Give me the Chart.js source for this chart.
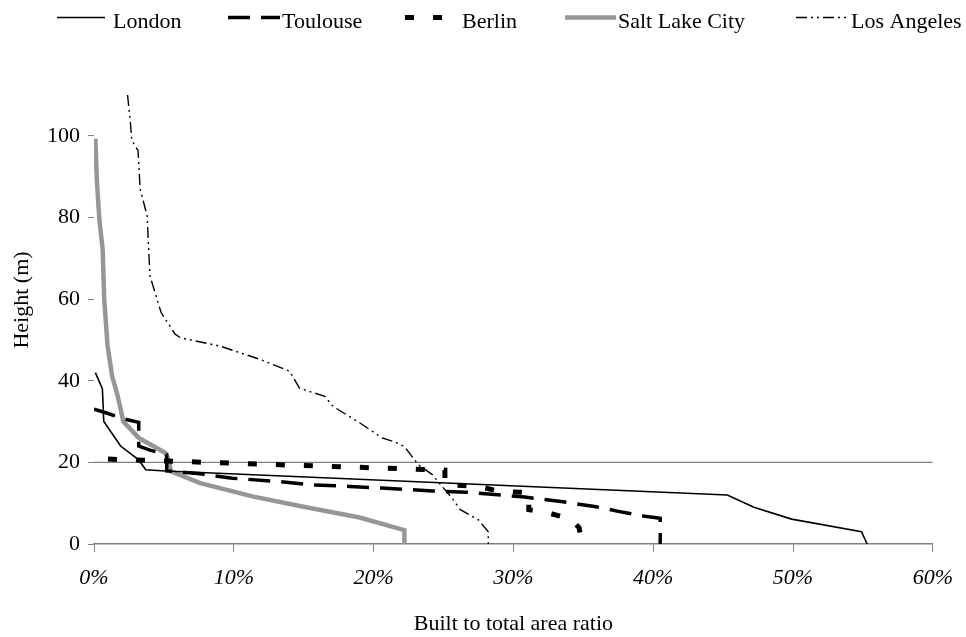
<!DOCTYPE html>
<html>
<head>
<meta charset="utf-8">
<script src="https://cdn.jsdelivr.net/npm/chart.js@4.4.1/dist/chart.umd.min.js"></script>
<style>
  html, body { margin: 0; padding: 0; background: #fff; }
</style>
</head>
<body>
<canvas id="myChart" width="966" height="637"></canvas>
<script>
// built-to-total area ratio (%) against height (m)
const londonRatio  = [0.1, 0.6, 0.7, 1.9, 3.2, 3.7, 5.1, 45.3, 47.2, 49.9, 54.9, 55.3];
const londonHeight = [42, 38, 30, 24, 20.6, 18.2, 17.9, 12, 9, 6.1, 3, 0];

const toulouseRatio  = [0, 0.9, 2.2, 3.2, 3.2, 4.0, 5.2, 5.2, 7.6, 9.9, 13.3, 15.6, 18.3, 20.6, 24.2, 26.6, 29.1, 30.8, 33.4, 35.8, 37.5, 39.4, 40.5, 40.5];
const toulouseHeight = [33, 32.1, 30.6, 29.8, 24, 23, 21.9, 17.9, 17.2, 16.1, 15.3, 14.5, 14.1, 13.7, 13, 12.7, 12, 11.5, 10.4, 9.2, 8.0, 6.8, 6.3, 0];

const berlinRatio  = [1.0, 25.1, 25.1, 27.5, 29.0, 31.1, 31.1, 32.3, 34.1, 34.7, 34.9];
const berlinHeight = [20.8, 18.1, 14.6, 14.1, 12.9, 12.6, 8.4, 7.8, 6.1, 4.0, 0];

const saltRatio  = [0.1, 0.2, 0.38, 0.62, 0.73, 0.97, 1.3, 1.7, 2.1, 3.2, 4.3, 5.1, 5.35, 5.5, 7.6, 11.4, 14.9, 19.0, 22.2, 22.2];
const saltHeight = [99.3, 89.4, 79.6, 72.2, 60, 48.5, 41.1, 36.2, 30, 26, 23.9, 22.3, 20.6, 17.8, 14.9, 11.6, 9.2, 6.5, 3.4, 0];

const laRatio  = [2.4, 2.6, 2.7, 3.15, 3.3, 3.8, 4.0, 4.8, 5.8, 6.2, 9.0, 11.9, 14.0, 14.7, 15.2, 16.5, 17.1, 19.0, 20.6, 21.6, 22.2, 23.2, 24.2, 24.9, 25.6, 26.2, 27.5, 28.2, 28.2];
const laHeight = [110, 103.4, 98.9, 96.4, 87, 80.4, 65.7, 56.7, 51.4, 50.5, 48.5, 45.2, 42.3, 38.2, 37.6, 36.2, 33.7, 29.7, 26, 24.9, 23.9, 19.4, 17, 14.1, 11.3, 8.4, 5.9, 3, 0];

// 20 m reference line
const refRatio  = [0, 60];
const refHeight = [20, 20];

const xTicks = [0, 10, 20, 30, 40, 50, 60];
const yTicks = [0, 20, 40, 60, 80, 100];

const serif = '"Liberation Serif", "Times New Roman", serif';

const toPoints = (xs, ys) => xs.map((x, i) => ({ x: x, y: ys[i] }));

// hand placed legend, like the excel one
const legendSpots = [
  { from: 57,  to: 105, text: 113 },
  { from: 228, to: 280, text: 282 },
  { from: 405, to: 442, text: 462 },
  { from: 565, to: 616, text: 618 },
  { from: 796, to: 846, text: 851 }
];

const cityLegend = {
  id: 'cityLegend',
  afterDraw(chart) {
    const ctx = chart.ctx;
    ctx.save();
    ctx.font = '22px ' + serif;
    ctx.fillStyle = '#000';
    ctx.textBaseline = 'alphabetic';
    chart.data.datasets.filter(d => !d.noLegend).forEach((ds, i) => {
      const s = legendSpots[i];
      ctx.strokeStyle = ds.borderColor;
      ctx.lineWidth = ds.borderWidth;
      ctx.setLineDash(ds.borderDash || []);
      ctx.beginPath();
      ctx.moveTo(s.from, 17.5);
      ctx.lineTo(s.to, 17.5);
      ctx.stroke();
      ctx.fillText(ds.label, s.text, 28);
    });
    // y axis title
    ctx.setLineDash([]);
    ctx.translate(22, 300);
    ctx.rotate(-Math.PI / 2);
    ctx.textAlign = 'center';
    ctx.textBaseline = 'middle';
    ctx.fillText('Height (m)', 0, 0);
    ctx.restore();
  }
};

const ctx = document.getElementById('myChart');

new Chart(ctx, {
  type: 'line',
  data: {
    datasets: [
      { label: 'London', data: toPoints(londonRatio, londonHeight),
        borderColor: '#000', borderWidth: 1.6 },
      { label: 'Toulouse', data: toPoints(toulouseRatio, toulouseHeight),
        borderColor: '#000', borderWidth: 3.5, borderDash: [22, 11] },
      { label: 'Berlin', data: toPoints(berlinRatio, berlinHeight),
        borderColor: '#000', borderWidth: 5, borderDash: [9, 19] },
      { label: 'Salt Lake City', data: toPoints(saltRatio, saltHeight),
        borderColor: '#969696', borderWidth: 4.5 },
      { label: 'Los Angeles', data: toPoints(laRatio, laHeight),
        borderColor: '#000', borderWidth: 1.4, borderDash: [11, 4, 2, 4, 2, 4] },
      { label: '', data: toPoints(refRatio, refHeight), noLegend: true,
        borderColor: '#808080', borderWidth: 1.4 }
    ]
  },
  options: {
    responsive: false,
    animation: false,
    layout: { padding: { top: 95, right: 29, left: 0, bottom: 0 } },
    elements: {
      point: { radius: 0, hoverRadius: 0 },
      line: { tension: 0, fill: false, borderCapStyle: 'butt' }
    },
    plugins: {
      legend: { display: false },
      tooltip: { enabled: false }
    },
    scales: {
      x: {
        type: 'linear',
        min: 0,
        max: 60,
        afterBuildTicks: s => { s.ticks = xTicks.map(v => ({ value: v })); },
        afterFit: s => { s.height = 93; },
        ticks: {
          callback: v => v + '%',
          color: '#000',
          font: { family: serif, size: 22, style: 'italic' },
          padding: 13,
          maxRotation: 0
        },
        grid: { drawOnChartArea: false, color: '#808080', tickLength: 8 },
        border: { color: '#808080', width: 1.4 },
        title: {
          display: true,
          text: 'Built to total area ratio',
          color: '#000',
          font: { family: serif, size: 22 },
          padding: { top: 0, bottom: 0 }
        }
      },
      y: {
        type: 'linear',
        min: 0,
        max: 110,
        afterBuildTicks: s => { s.ticks = yTicks.map(v => ({ value: v })); },
        afterFit: s => { s.width = 94; },
        ticks: {
          color: '#000',
          font: { family: serif, size: 22 },
          padding: 8
        },
        grid: { drawOnChartArea: false, color: '#808080', tickLength: 6 },
        border: { display: false }
      }
    }
  },
  plugins: [cityLegend]
});
</script>
</body>
</html>
